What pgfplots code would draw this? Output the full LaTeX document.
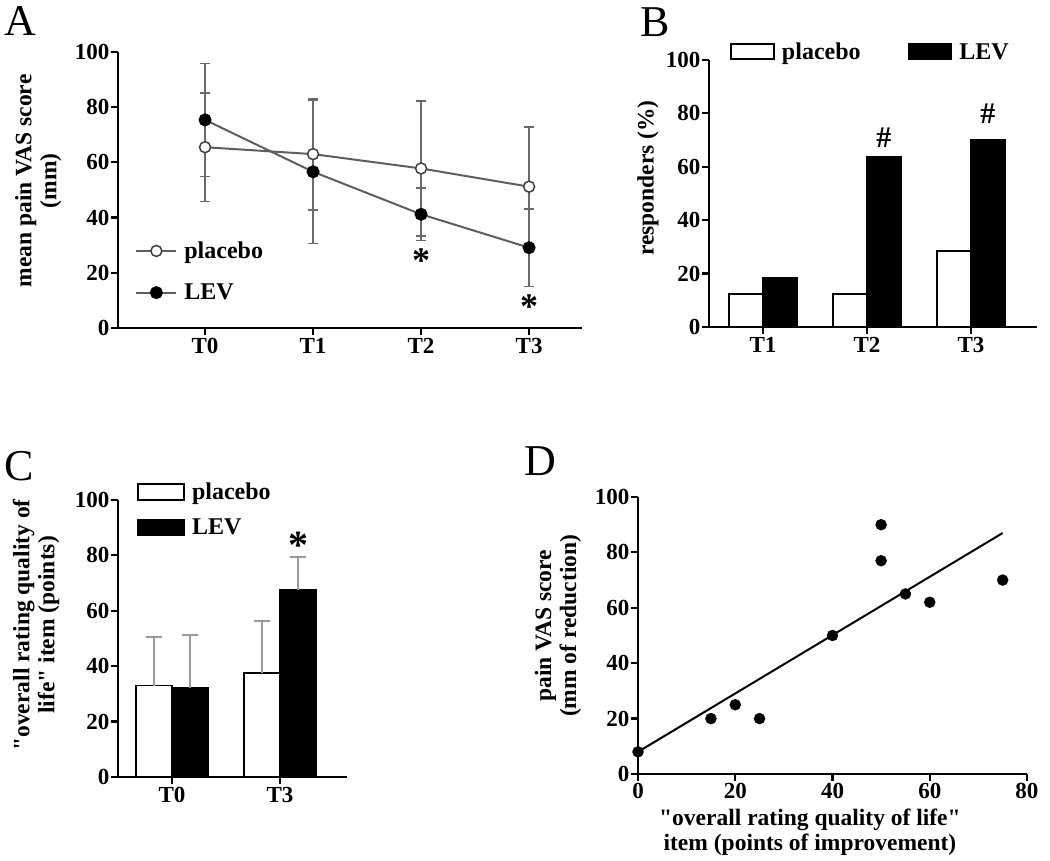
\documentclass[border=0pt]{standalone}
\usepackage{pgfplots}
\pgfplotsset{compat=1.18}
\usepackage{fontspec}
\setmainfont{Liberation Serif}[Ligatures=TeXOff]
\definecolor{lgray}{HTML}{5E5E5E}
\definecolor{egray}{HTML}{6A6A6A}
\definecolor{cgray}{HTML}{9A9A9A}
\pgfplotsset{
 panel/.style={
  scale only axis, anchor=south west,
  axis x line*=bottom, axis y line*=left,
  axis line style={-, line width=2.4pt, black},
  tick style={line width=2.2pt, black},
  major tick length=7pt, tick align=outside,
  ymin=0, ymax=100, ytick={0,20,40,60,80,100},
  /pgf/number format/assume math mode=true,
  tick label style={font=\fontsize{23}{26}\selectfont\bfseries},
  yticklabel style={inner sep=1.5pt},
  label style={font=\fontsize{23.5}{25}\selectfont\bfseries},
  legend style={font=\fontsize{24}{26}\selectfont\bfseries, draw=none, fill=none, inner sep=0pt,
    nodes={inner sep=2pt},
    /tikz/every odd column/.append style={column sep=5pt}},
  legend cell align=left,
  clip=false,
 }
}
\begin{document}
\begin{tikzpicture}
\path[use as bounding box] (0,0) rectangle (1050pt,861pt);
% ---------- A
\begin{axis}[panel, at={(118pt,533pt)}, width=464pt, height=276pt,
  xmin=-0.806, xmax=3.49, xtick={0,1,2,3}, xticklabels={T0,T1,T2,T3},
  ylabel={mean pain VAS score\\(mm)},
  ylabel style={at={(axis description cs:-0.172,0.533)}, anchor=center, align=center},
  legend style={at={(axis description cs:0.037,0.32)}, anchor=north west, row sep=20pt},
  legend image code/.code={\draw[#1, mark repeat=2, mark phase=2] plot coordinates {(0pt,0pt) (20pt,0pt) (40pt,0pt)};}]
\addplot[lgray, line width=2pt, mark=*, mark size=5.5pt,
  mark options={fill=white, draw=black!75, line width=1.5pt},
  error bars/.cd, y dir=both, y explicit,
  error bar style={egray, line width=1.5pt},
  error mark options={egray, rotate=90, mark size=5pt, line width=1.5pt}]
  coordinates {(0,65.5) +- (0,19.6) (1,63) +- (0,20.2) (2,57.8) +- (0,24.5) (3,51.2) +- (0,21.7)};
\addlegendentry{placebo}
\addplot[lgray, line width=2pt, mark=*, mark size=5.5pt,
  mark options={fill=black, draw=black},
  error bars/.cd, y dir=both, y explicit,
  error bar style={egray, line width=1.5pt},
  error mark options={egray, rotate=90, mark size=5pt, line width=1.5pt}]
  coordinates {(0,75.4) +- (0,20.5) (1,56.6) +- (0,26) (2,41.2) +- (0,9.5) (3,29.1) +- (0,14)};
\addlegendentry{LEV}
\node[font=\fontsize{36}{36}\selectfont\bfseries] at (axis cs:2,24.5) {*};
\node[font=\fontsize{36}{36}\selectfont\bfseries] at (axis cs:3,7.6) {*};
\end{axis}
% ---------- B
\begin{axis}[panel, at={(709pt,534pt)}, width=328pt, height=267pt,
  xmin=0.481, xmax=3.635, xtick={1,2,3}, xticklabels={T1,T2,T3},
  ybar=0pt, bar width=34pt,
  ylabel={responders (\%)},
  ylabel style={at={(axis description cs:-0.186,0.558)}, anchor=center},
  legend columns=2,
  legend style={at={(axis description cs:0.064,1.03)}, anchor=west,
    /tikz/every even column/.append style={column sep=45pt}},
  legend image code/.code={\draw[#1] (0pt,-7pt) rectangle (43pt,8pt);}]
\addplot[fill=white, draw=black, line width=1.8pt] coordinates {(1,12.5) (2,12.5) (3,28.5)};
\addlegendentry{placebo}
\addplot[fill=black, draw=black, line width=1.8pt] coordinates {(1,18.5) (2,63.6) (3,70)};
\addlegendentry{LEV}
\node[font=\fontsize{30}{30}\selectfont\bfseries] at (axis cs:2.163,71) {\#};
\node[font=\fontsize{30}{30}\selectfont\bfseries] at (axis cs:3.163,80) {\#};
\end{axis}
% ---------- C
\begin{axis}[panel, at={(118pt,84pt)}, width=229pt, height=277pt,
  xmin=-0.5, xmax=1.62, xtick={0,1}, xticklabels={T0,T3},
  ybar=0pt, bar width=36pt,
  ylabel={"overall rating quality of\\life" item (points)},
  ylabel style={at={(axis description cs:-0.358,0.549)}, anchor=center, align=center},
  legend style={at={(axis description cs:0.083,1.07)}, anchor=north west, row sep=14pt},
  legend image code/.code={\draw[#1] (0pt,-8pt) rectangle (46pt,8pt);}]
\addplot[fill=white, draw=black, line width=1.8pt,
  error bars/.cd, y dir=plus, y explicit,
  error bar style={cgray, line width=1.5pt},
  error mark options={cgray, rotate=90, mark size=8pt, line width=1.5pt}]
  coordinates {(0,33) +- (0,17.5) (1,37.4) +- (0,19)};
\addlegendentry{placebo}
\addplot[fill=black, draw=black, line width=1.8pt,
  error bars/.cd, y dir=plus, y explicit,
  error bar style={cgray, line width=1.5pt},
  error mark options={cgray, rotate=90, mark size=8pt, line width=1.5pt}]
  coordinates {(0,32) +- (0,19.2) (1,67.5) +- (0,12)};
\addlegendentry{LEV}
\node[font=\fontsize{40}{40}\selectfont\bfseries] at (axis cs:1.167,83.5) {*};
\end{axis}
% ---------- D
\begin{axis}[panel, at={(638pt,87pt)}, width=389pt, height=277pt,
  xmin=0, xmax=80, xtick={0,20,40,60,80},
  xticklabel style={inner sep=2pt},
  ylabel={pain VAS score\\(mm of reduction)},
  ylabel style={at={(axis description cs:-0.206,0.535)}, anchor=center, align=center},
  xlabel={"overall rating quality of life"\\item (points of improvement)},
  xlabel style={at={(axis description cs:0.442,-0.21)}, anchor=center, align=center}]
\addplot[only marks, mark=*, mark size=5.5pt, black]
  coordinates {(0,8) (15,20) (20,25) (25,20) (40,50) (50,90) (50,77) (55,65) (60,62) (75,70)};
\addplot[black, line width=2pt] coordinates {(0,8) (75,87)};
\end{axis}
% panel letters
\node[font=\fontsize{44}{44}\selectfont] at (20pt,840pt) {A};
\node[font=\fontsize{44}{44}\selectfont] at (655pt,839pt) {B};
\node[font=\fontsize{44}{44}\selectfont] at (19pt,395pt) {C};
\node[font=\fontsize{44}{44}\selectfont] at (540pt,400pt) {D};
\end{tikzpicture}
\end{document}
